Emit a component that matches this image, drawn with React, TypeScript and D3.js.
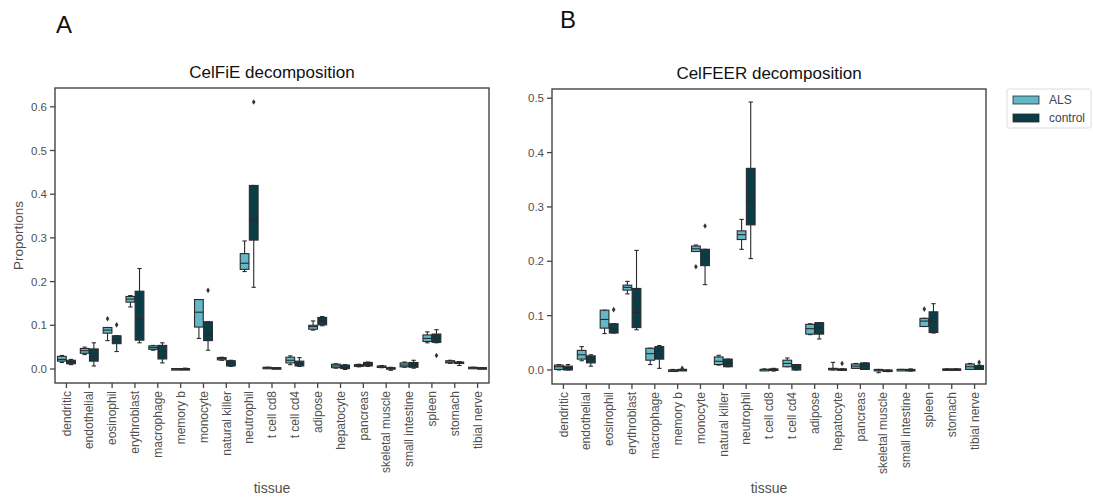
import React from "react";
import * as d3 from "d3";

const categories = [
  "dendritic", "endothelial", "eosinophil", "erythroblast", "macrophage", "memory b",
  "monocyte", "natural killer", "neutrophil", "t cell cd8", "t cell cd4", "adipose",
  "hepatocyte", "pancreas", "skeletal muscle", "small intestine", "spleen", "stomach", "tibial nerve",
];

// [min whisker, q1, median, q3, max whisker]
const celfieALS: number[][] = [
  [0.015, 0.018, 0.022, 0.029, 0.031],
  [0.033, 0.036, 0.042, 0.047, 0.05],
  [0.065, 0.082, 0.089, 0.095, 0.095],
  [0.142, 0.153, 0.16, 0.166, 0.168],
  [0.043, 0.045, 0.049, 0.053, 0.054],
  [-0.001, 0.0, 0.0, 0.001, 0.001],
  [0.07, 0.096, 0.13, 0.159, 0.159],
  [0.02, 0.021, 0.024, 0.026, 0.027],
  [0.223, 0.228, 0.242, 0.264, 0.293],
  [0.002, 0.002, 0.003, 0.004, 0.004],
  [0.01, 0.014, 0.02, 0.027, 0.03],
  [0.089, 0.091, 0.097, 0.1, 0.11],
  [0.002, 0.003, 0.007, 0.011, 0.012],
  [0.005, 0.006, 0.008, 0.01, 0.011],
  [0.003, 0.004, 0.005, 0.007, 0.008],
  [0.004, 0.005, 0.009, 0.014, 0.016],
  [0.06, 0.063, 0.07, 0.078, 0.085],
  [0.013, 0.014, 0.016, 0.019, 0.02],
  [0.002, 0.002, 0.003, 0.004, 0.004],
];
const celfieCtrl: number[][] = [
  [0.01, 0.012, 0.016, 0.02, 0.022],
  [0.007, 0.018, 0.029, 0.046, 0.06],
  [0.04, 0.058, 0.068, 0.076, 0.076],
  [0.06, 0.066, 0.115, 0.178, 0.23],
  [0.014, 0.023, 0.04, 0.054, 0.06],
  [-0.001, 0.0, 0.0, 0.001, 0.002],
  [0.043, 0.065, 0.077, 0.108, 0.108],
  [0.006, 0.007, 0.013, 0.019, 0.02],
  [0.187, 0.295, 0.34, 0.42, 0.42],
  [0.001, 0.001, 0.002, 0.003, 0.003],
  [0.006, 0.007, 0.012, 0.018, 0.026],
  [0.099, 0.101, 0.11, 0.118, 0.12],
  [-0.001, 0.001, 0.004, 0.009, 0.01],
  [0.006, 0.007, 0.011, 0.015, 0.016],
  [-0.003, 0.001, 0.002, 0.003, 0.004],
  [0.002, 0.004, 0.009, 0.015, 0.02],
  [0.06, 0.061, 0.073, 0.08, 0.09],
  [0.008, 0.013, 0.015, 0.016, 0.017],
  [0.001, 0.001, 0.002, 0.003, 0.003],
];
// [category index, value]
const celfieALSOutliers: number[][] = [[2, 0.115]];
const celfieCtrlOutliers: number[][] = [[2, 0.101], [6, 0.18], [8, 0.611], [16, 0.031]];

const celfeerALS: number[][] = [
  [0.0, 0.001, 0.006, 0.009, 0.01],
  [0.017, 0.02, 0.028, 0.036, 0.043],
  [0.067, 0.077, 0.093, 0.11, 0.11],
  [0.14, 0.147, 0.152, 0.156, 0.163],
  [0.01, 0.018, 0.03, 0.04, 0.04],
  [-0.001, -0.001, 0.0, 0.0, 0.001],
  [0.218, 0.218, 0.223, 0.228, 0.23],
  [0.009, 0.01, 0.016, 0.024, 0.027],
  [0.222, 0.24, 0.249, 0.256, 0.277],
  [0.0, 0.0, 0.001, 0.001, 0.002],
  [0.006, 0.006, 0.012, 0.018, 0.022],
  [0.065, 0.066, 0.076, 0.084, 0.085],
  [0.0, 0.001, 0.002, 0.003, 0.014],
  [0.003, 0.003, 0.007, 0.011, 0.012],
  [-0.005, -0.001, 0.0, 0.001, 0.001],
  [0.0, 0.0, 0.001, 0.001, 0.001],
  [0.08, 0.08, 0.09, 0.095, 0.095],
  [0.0, 0.001, 0.001, 0.002, 0.002],
  [0.001, 0.001, 0.006, 0.011, 0.012],
];
const celfeerCtrl: number[][] = [
  [0.0, 0.0, 0.004, 0.007, 0.01],
  [0.007, 0.013, 0.02, 0.026, 0.028],
  [0.068, 0.068, 0.075, 0.085, 0.085],
  [0.074, 0.078, 0.106, 0.15, 0.22],
  [0.003, 0.02, 0.034, 0.043, 0.045],
  [0.0, 0.0, 0.001, 0.001, 0.001],
  [0.157, 0.192, 0.207, 0.222, 0.222],
  [0.006, 0.006, 0.013, 0.02, 0.02],
  [0.205, 0.267, 0.309, 0.371, 0.493],
  [-0.002, 0.0, 0.001, 0.002, 0.003],
  [0.0, 0.0, 0.005, 0.01, 0.01],
  [0.057, 0.066, 0.077, 0.087, 0.087],
  [0.0, 0.0, 0.001, 0.002, 0.002],
  [0.001, 0.001, 0.008, 0.013, 0.013],
  [-0.003, -0.002, -0.001, 0.0, 0.0],
  [-0.002, -0.001, 0.0, 0.001, 0.002],
  [0.068, 0.069, 0.088, 0.107, 0.122],
  [0.0, 0.0, 0.001, 0.002, 0.002],
  [0.001, 0.001, 0.004, 0.008, 0.009],
];
const celfeerALSOutliers: number[][] = [[6, 0.19], [16, 0.112]];
const celfeerCtrlOutliers: number[][] = [[2, 0.111], [5, 0.003], [6, 0.265], [12, 0.012], [18, 0.014]];

const celfieTicks = [0.0, 0.1, 0.2, 0.3, 0.4, 0.5, 0.6];
const celfeerTicks = [0.0, 0.1, 0.2, 0.3, 0.4, 0.5];
const seriesNames = ["ALS", "control"];
const seriesColors = ["#62b7c8", "#0b3c48"];

const AXIS = "#444";
const EDGE = "#2a2a2a";
const FONT = "Liberation Sans, Arial, sans-serif";

type PanelProps = {
  left: number; right: number; top: number; bottom: number;
  domain: [number, number]; ticks: number[]; title: string;
  als: number[][]; ctrl: number[][]; alsOut: number[][]; ctrlOut: number[][];
  yLabel?: string;
};

function Panel(p: PanelProps) {
  const x = d3.scaleBand<string>().domain(categories).range([p.left, p.right]).padding(0);
  const y = d3.scaleLinear().domain(p.domain).range([p.bottom, p.top]);
  const bw = x.bandwidth();
  const boxW = bw * 0.4 - 0.4;
  const offs = [-bw * 0.2, bw * 0.2];
  const groups = [p.als, p.ctrl];
  const outs = [p.alsOut, p.ctrlOut];
  const cx = (c: string) => (x(c) as number) + bw / 2;
  return (
    <g>
      <text x={(p.left + p.right) / 2} y={p.top - 10} textAnchor="middle" fontSize={17} fill="#111" fontFamily={FONT}>{p.title}</text>
      {groups.map((g, gi) => (
        <g key={gi}>
          {g.map((s, i) => {
            const c = cx(categories[i]) + offs[gi];
            const [mn, q1, md, q3, mx] = s;
            const capW = boxW / 2;
            return (
              <g key={i} stroke={EDGE} strokeWidth={1.1}>
                <line x1={c} x2={c} y1={y(mx)} y2={y(q3)} />
                <line x1={c} x2={c} y1={y(q1)} y2={y(mn)} />
                <line x1={c - capW / 2} x2={c + capW / 2} y1={y(mx)} y2={y(mx)} />
                <line x1={c - capW / 2} x2={c + capW / 2} y1={y(mn)} y2={y(mn)} />
                <rect x={c - boxW / 2} width={boxW} y={y(q3)} height={Math.max(1.5, y(q1) - y(q3))} fill={seriesColors[gi]} />
                <line x1={c - boxW / 2} x2={c + boxW / 2} y1={y(md)} y2={y(md)} />
              </g>
            );
          })}
          {outs[gi].map(([ci, v], k) => {
            const c = cx(categories[ci]) + offs[gi];
            const yy = y(v);
            return <path key={k} d={`M${c},${yy - 2.8}L${c + 1.8},${yy}L${c},${yy + 2.8}L${c - 1.8},${yy}Z`} fill="#333" />;
          })}
        </g>
      ))}
      <rect x={p.left} y={p.top} width={p.right - p.left} height={p.bottom - p.top} fill="none" stroke={AXIS} strokeWidth={1.4} />
      {p.ticks.map((t) => (
        <g key={t}>
          <line x1={p.left - 5} x2={p.left} y1={y(t)} y2={y(t)} stroke={AXIS} strokeWidth={1.3} />
          <text x={p.left - 8} y={y(t)} dy="0.35em" textAnchor="end" fontSize={11.5} fill="#505050" fontFamily={FONT}>{t.toFixed(1)}</text>
        </g>
      ))}
      {categories.map((c) => (
        <g key={c}>
          <line x1={cx(c)} x2={cx(c)} y1={p.bottom} y2={p.bottom + 5} stroke={AXIS} strokeWidth={1.3} />
          <text transform={`translate(${cx(c)},${p.bottom + 8}) rotate(-90)`} dy="0.35em" textAnchor="end" fontSize={12} fill="#505050" fontFamily={FONT}>{c}</text>
        </g>
      ))}
      <text x={(p.left + p.right) / 2} y={493} textAnchor="middle" fontSize={14} fill="#505050" fontFamily={FONT}>tissue</text>
      {p.yLabel && (
        <text transform={`translate(23,${(p.top + p.bottom) / 2}) rotate(-90)`} textAnchor="middle" fontSize={13.5} fill="#505050" fontFamily={FONT}>{p.yLabel}</text>
      )}
    </g>
  );
}

export default function App() {
  return (
    <svg width={1093} height={500} style={{ position: "absolute", left: 0, top: 0, background: "#fff" }}>
      <rect width={1093} height={500} fill="#fff" />
      <text x={56} y={33} fontSize={24} fill="#111" fontFamily={FONT}>A</text>
      <text x={560} y={28} fontSize={24} fill="#111" fontFamily={FONT}>B</text>
      <Panel left={55} right={489} top={88} bottom={383} domain={[-0.032, 0.643]} ticks={celfieTicks}
        title="CelFiE decomposition" als={celfieALS} ctrl={celfieCtrl} alsOut={celfieALSOutliers} ctrlOut={celfieCtrlOutliers} yLabel="Proportions" />
      <Panel left={552} right={986} top={89} bottom={384} domain={[-0.0258, 0.517]} ticks={celfeerTicks}
        title="CelFEER decomposition" als={celfeerALS} ctrl={celfeerCtrl} alsOut={celfeerALSOutliers} ctrlOut={celfeerCtrlOutliers} />
      <g>
        <rect x={1007} y={89} width={84} height={39} fill="#fff" stroke="#ddd" strokeWidth={1} rx={2} />
        {seriesNames.map((n, i) => (
          <g key={n}>
            <rect x={1013} y={96 + i * 18} width={26} height={8} fill={seriesColors[i]} stroke={EDGE} strokeWidth={0.8} />
            <text x={1049} y={100 + i * 18} dy="0.35em" fontSize={12} fill="#444" fontFamily={FONT}>{n}</text>
          </g>
        ))}
      </g>
    </svg>
  );
}
